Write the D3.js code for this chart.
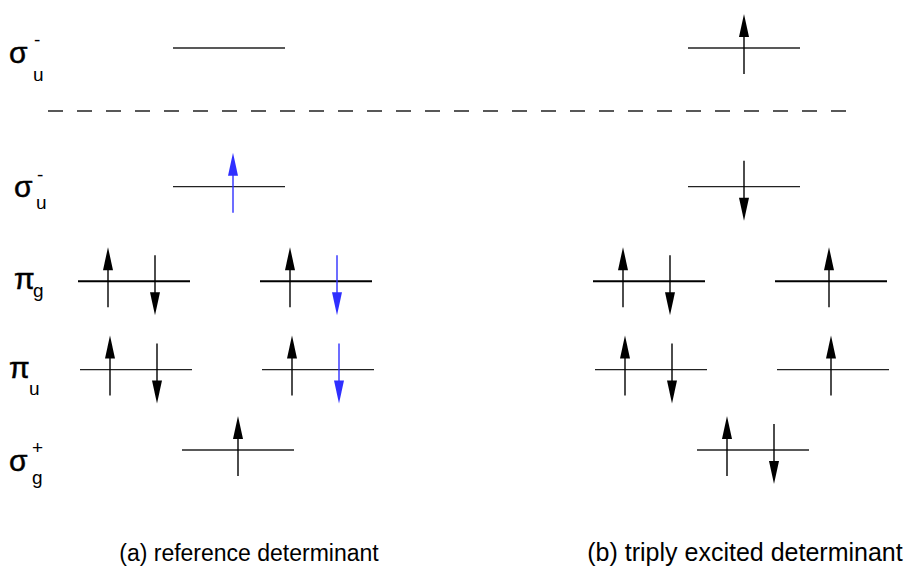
<!DOCTYPE html>
<html>
<head>
<meta charset="utf-8">
<script src="https://cdn.jsdelivr.net/npm/d3@7"></script>
<style>
  html, body { margin: 0; padding: 0; background: #fff; }
  svg { display: block; font-family: "Liberation Sans", Arial, sans-serif; }
</style>
</head>
<body>
<svg id="chart" width="919" height="572"></svg>
<script>
// Molecular orbitals, top to bottom, with their relative energies
const orbitals = ["σu-*", "σu-", "πg", "πu", "σg+"];
const energies = [10, 6.55, 4.2, 2.0, 0];

// Orbital symbols drawn on the left: [main glyph, superscript, subscript]
const symbolMain = ["σ", "σ", "π", "π", "σ"];
const symbolSup  = ["-", "-", "", "", "+"];
const symbolSub  = ["u", "u", "g", "u", "g"];

// Degenerate orbitals occupy two slots ("L","R"); the rest sit in the centre ("C")
const slotsByOrbital = [["C"], ["C"], ["L", "R"], ["L", "R"], ["C"]];

// Determinants shown side by side
const determinants = ["a", "b"];
const captions = ["(a) reference determinant", "(b) triply excited determinant"];

// Electrons: [determinant, orbital, slot, spin, highlighted]
const electrons = [
  ["a", "σu-", "C", "up", true],
  ["a", "πg", "L", "up", false],
  ["a", "πg", "L", "down", false],
  ["a", "πg", "R", "up", false],
  ["a", "πg", "R", "down", true],
  ["a", "πu", "L", "up", false],
  ["a", "πu", "L", "down", false],
  ["a", "πu", "R", "up", false],
  ["a", "πu", "R", "down", true],
  ["a", "σg+", "C", "up", false],

  ["b", "σu-*", "C", "up", false],
  ["b", "σu-", "C", "down", false],
  ["b", "πg", "L", "up", false],
  ["b", "πg", "L", "down", false],
  ["b", "πg", "R", "up", false],
  ["b", "πu", "L", "up", false],
  ["b", "πu", "L", "down", false],
  ["b", "πu", "R", "up", false],
  ["b", "σg+", "C", "up", false],
  ["b", "σg+", "C", "down", false]
];

// ---- layout ----
const svg = d3.select("#chart");

const y = d3.scaleLinear().domain([0, 10]).range([450, 48]);
const energyOf = Object.fromEntries(orbitals.map((o, i) => [o, energies[i]]));

// Horizontal centre of each determinant and of each slot inside it
const xDet = d3.scalePoint().domain(determinants).range([229, 744]);
const slotOffset = { L: -95, C: 0, R: 87 };
const rowShift = { "σu-*": 0, "σu-": 0, "πg": 0, "πu": 2, "σg+": 9 };
const levelHalf = 56;

const blue = "#2f2fff";

function levelCenter(det, orb, slot) {
  return xDet(det) + slotOffset[slot] + rowShift[orb];
}

// Dashed separator between the top virtual orbital and the rest
svg.append("line")
  .attr("x1", 48).attr("x2", 850)
  .attr("y1", 111).attr("y2", 111)
  .attr("stroke", "#222").attr("stroke-width", 1.3)
  .attr("stroke-dasharray", "15,14");

// Energy levels
const levels = [];
determinants.forEach(det => {
  orbitals.forEach((orb, i) => {
    slotsByOrbital[i].forEach(slot => levels.push({ det, orb, slot }));
  });
});

svg.append("g").selectAll("line")
  .data(levels)
  .join("line")
  .attr("x1", d => levelCenter(d.det, d.orb, d.slot) - levelHalf)
  .attr("x2", d => levelCenter(d.det, d.orb, d.slot) + levelHalf)
  .attr("y1", d => y(energyOf[d.orb]))
  .attr("y2", d => y(energyOf[d.orb]))
  .attr("stroke", d => d.orb === "πg" ? "#000" : "#222")
  .attr("stroke-width", d => d.orb === "πg" ? 2 : 1.3);

// Spin arrows
function electronX(e) {
  const [det, orb, slot, spin] = e;
  const c = levelCenter(det, orb, slot);
  const paired = electrons.filter(o => o[0] === det && o[1] === orb && o[2] === slot).length === 2;
  if (!paired) return c + (det === "a" && orb === "σu-" ? 4 : (det === "b" && slot === "R" ? -2 : 0));
  return spin === "up" ? c - 26 : c + 21;
}

const headLen = 23, headHalf = 5, tail = 26, tip = 34;
const arrows = svg.append("g").selectAll("g")
  .data(electrons)
  .join("g")
  .attr("transform", d => `translate(${electronX(d)},${y(energyOf[d[1]])})`);

arrows.append("line")
  .attr("x1", 0).attr("x2", 0)
  .attr("y1", d => d[3] === "up" ? tail : -tail)
  .attr("y2", d => d[3] === "up" ? -tip + headLen - 2 : tip - headLen + 2)
  .attr("stroke", d => d[4] ? blue : "#000")
  .attr("stroke-width", 1.4);

arrows.append("path")
  .attr("d", d => {
    const s = d[3] === "up" ? -1 : 1;
    return `M0,${s * tip} L${headHalf},${s * (tip - headLen)} L${-headHalf},${s * (tip - headLen)} Z`;
  })
  .attr("fill", d => d[4] ? blue : "#000");

// Orbital symbols
const symbolPos = [
  { x: 9,  yb: 63,  sx: 33, supY: 46,  subY: 81 },
  { x: 14, yb: 197, sx: 36, supY: 181, subY: 209 },
  { x: 14, yb: 289, sx: 33, supY: 0,   subY: 297 },
  { x: 9,  yb: 378, sx: 29, supY: 0,   subY: 395 },
  { x: 9,  yb: 471, sx: 32, supY: 454, subY: 484 }
];

const labels = svg.append("g").attr("fill", "#000");
orbitals.forEach((orb, i) => {
  const p = symbolPos[i];
  labels.append("text")
    .attr("x", p.x).attr("y", p.yb)
    .attr("font-size", 30)
    .attr("stroke", "#000").attr("stroke-width", 0.5)
    .text(symbolMain[i]);
  if (symbolSup[i]) {
    labels.append("text")
      .attr("x", p.sx + (symbolSup[i] === "-" ? 1 : 0)).attr("y", p.supY)
      .attr("font-size", 19)
      .text(symbolSup[i]);
  }
  labels.append("text")
    .attr("x", p.sx).attr("y", p.subY)
    .attr("font-size", 19)
    .text(symbolSub[i]);
});

// Captions under each determinant
svg.append("g").selectAll("text")
  .data(determinants)
  .join("text")
  .attr("x", (d, i) => i === 0 ? 249 : 745)
  .attr("y", 561)
  .attr("text-anchor", "middle")
  .attr("font-size", (d, i) => i === 0 ? 23 : 25)
  .attr("fill", "#000")
  .text((d, i) => captions[i]);
</script>
</body>
</html>
